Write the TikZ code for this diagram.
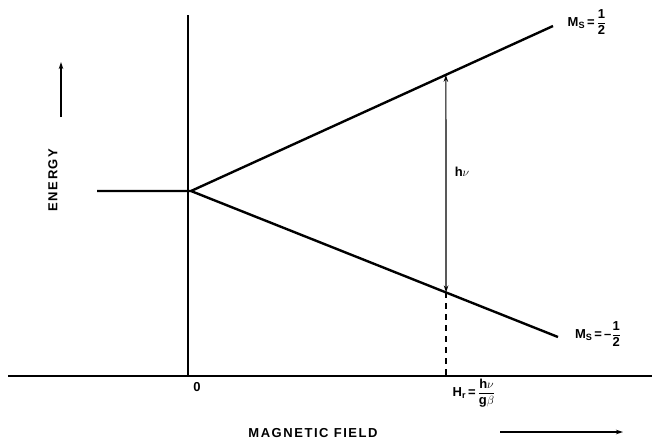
\documentclass[tikz,border=0pt]{standalone}
\usepackage{amsmath}
\usepackage{fontspec}
\setmainfont{Liberation Sans}
\usetikzlibrary{arrows.meta,calc}
\begin{document}
\begin{tikzpicture}[x=1pt,y=-1pt,
  >={Stealth[length=7pt,width=4.5pt]},
  lvl/.style={line width=2.4pt},
  axis line/.style={line width=1.8pt},
  lab/.style={font=\bfseries\fontsize{13}{14}\selectfont, inner sep=1pt},
  wide/.style={font=\bfseries\fontsize{13}{14}\selectfont\addfontfeature{LetterSpace=12}},
  tip/.style={line width=1.2pt}]
\useasboundingbox[fill=white] (0,0) rectangle (652,445);
% key points
\coordinate (O) at (191,191);
\coordinate (L) at (97,191);
\coordinate (U) at (553,26);
\coordinate (D) at (558,337);
\coordinate (VT) at (188,15);
\coordinate (VB) at (188,376);
\coordinate (HL) at (8,376);
\coordinate (HR) at (652,376);
\coordinate (T) at ($(O)!0.704!(U)$);
\coordinate (B) at ($(O)!0.695!(D)$);
\coordinate (Bax) at (B |- HL);
\coordinate (EB) at (61,117);
\coordinate (ET) at (61,62);
\coordinate (FL) at (500,432);
\coordinate (FR) at (623,432);
% axes
\draw[axis line] (VT) -- (VB);
\draw[axis line] (HL) -- (HR);
% energy levels
\draw[lvl] (L) -- (O) -- (U);
\draw[lvl] (O) -- (D);
% transition
\draw[tip,<->] (B) -- (T);
\draw[tip,dash pattern=on 6pt off 5pt] (B) -- (Bax);
% labels
\node[lab] (mup) at (587,22) {$\text{M}_{\text{S}}\,\text{=}\,\dfrac{\text{1}}{\text{2}}$};
\node[lab] (mdn) at (598,334) {$\text{M}_{\text{S}}\,\text{=}\,\text{--}\dfrac{\text{1}}{\text{2}}$};
\node[lab] (hr) at (474,393) {$\text{H}_{\text{r}}\,\text{=}\,\dfrac{\text{h}\nu}{\text{g}\beta}$};
\node[lab] (zero) at (197,387) {0};
\node[lab] (hnu) at (462,172) {h$\nu$};
\node[wide, rotate=90] (energy) at (53,180) {ENERGY};
\node[wide] (field) at (313,433) {MAGNETIC FIELD};
\draw[tip,->] (EB) -- (ET);
\draw[tip,->] (FL) -- (FR);
\end{tikzpicture}
\end{document}
